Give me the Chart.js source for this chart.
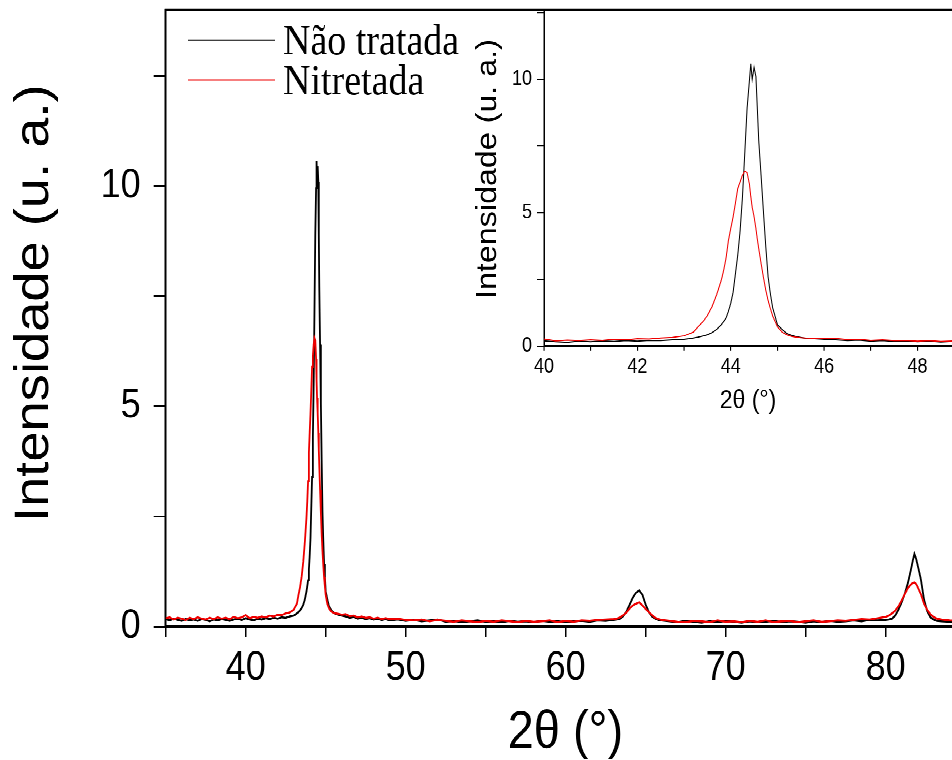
<!DOCTYPE html>
<html>
<head>
<meta charset="utf-8">
<script src="https://cdn.jsdelivr.net/npm/chart.js@4.4.1/dist/chart.umd.min.js"></script>
<style>
  html { overflow: hidden; }
  body { margin: 0; padding: 0; background: #fff; width: 952px; height: 760px; }
  /* the reference picture is stretched vertically, so the whole stage is too */
  #stage { position: relative; width: 952px; height: 672px; transform-origin: 0 0; transform: scaleY(1.131); }
  #main { position: absolute; left: 0; top: 0; }
  #inset { position: absolute; left: 440px; top: 0; }
</style>
</head>
<body>
<div id="stage">
  <canvas id="main" width="952" height="672"></canvas>
  <canvas id="inset" width="512" height="380"></canvas>
</div>
<script>
// -----------------------------------------------------------------------------
// Données
// -----------------------------------------------------------------------------
const seriesNames = ['Não tratada', 'Nitretada'];
const seriesColors = ['#000000', '#ee0000'];

const twoTheta = [
  35, 35.25, 35.5, 35.75, 36, 36.25, 36.5, 36.75, 37, 37.25, 37.5, 37.75, 38, 38.25, 38.5, 38.75,
  39, 39.25, 39.5, 39.75, 40, 40.25, 40.5, 40.75, 41, 41.25, 41.5, 41.75, 42, 42.25, 42.5, 42.75,
  43, 43.1, 43.2, 43.3, 43.4, 43.5, 43.6, 43.7, 43.8,
  43.85, 43.9, 43.95, 44, 44.05, 44.1, 44.15, 44.2, 44.25, 44.3, 44.35, 44.4, 44.43, 44.46, 44.5,
  44.54, 44.57, 44.6, 44.65, 44.7, 44.75, 44.8, 44.85, 44.9, 44.95,
  45, 45.1, 45.2, 45.3, 45.4, 45.5, 45.6,
  45.8, 46, 46.25, 46.5, 46.75, 47, 47.25, 47.5, 47.75, 48, 48.25, 48.5, 48.75, 49, 49.5, 50,
  50.5, 51, 51.5, 52, 52.5, 53, 53.5, 54, 54.5, 55, 55.5, 56, 56.5, 57, 57.5, 58, 58.5, 59, 59.5,
  60, 60.5, 61, 61.5, 62, 62.5, 63,
  63.2, 63.4, 63.6, 63.8, 64, 64.2, 64.4, 64.6, 64.8, 65, 65.2, 65.4, 65.6, 65.8, 66,
  66.5, 67, 67.5, 68, 68.5, 69, 69.5, 70, 70.5, 71, 71.5, 72, 72.5, 73, 73.5, 74, 74.5, 75, 75.5,
  76, 76.5, 77, 77.5, 78, 78.5, 79, 79.5,
  80, 80.2, 80.4, 80.6, 80.8, 81, 81.2, 81.4, 81.6, 81.7, 81.8, 81.9, 82, 82.2, 82.4, 82.6, 82.8, 83, 83.2,
  83.5, 84, 84.5
];

const naoTratada = [
  0.17, 0.14, 0.18, 0.15, 0.13, 0.17, 0.14, 0.16, 0.13, 0.17, 0.15, 0.12, 0.16, 0.14, 0.17, 0.15,
  0.13, 0.16, 0.18, 0.15, 0.19, 0.16, 0.14, 0.18, 0.16, 0.19, 0.17, 0.20, 0.18, 0.21, 0.20, 0.23,
  0.25, 0.27, 0.30, 0.33, 0.37, 0.42, 0.50, 0.62, 0.80,
  0.92, 1.05, 1.30, 1.60, 2.00, 2.70, 3.40, 4.30, 5.55, 7.20, 8.90, 9.95, 10.58, 10.00, 10.45,
  10.10, 8.90, 7.70, 6.40, 5.05, 3.75, 2.60, 1.95, 1.42, 1.12,
  0.80, 0.62, 0.47, 0.40, 0.35, 0.32, 0.29,
  0.27, 0.25, 0.23, 0.20, 0.22, 0.18, 0.20, 0.17, 0.19, 0.16, 0.18, 0.15, 0.17, 0.14, 0.16, 0.13,
  0.15, 0.12, 0.14, 0.16, 0.11, 0.13, 0.10, 0.12, 0.14, 0.11, 0.12, 0.10, 0.13, 0.11, 0.12, 0.10, 0.13, 0.11, 0.12,
  0.10, 0.12, 0.13, 0.11, 0.14, 0.13, 0.15,
  0.16, 0.18, 0.24, 0.34, 0.50, 0.66, 0.77, 0.82, 0.72, 0.50, 0.33, 0.23, 0.18, 0.15, 0.14,
  0.12, 0.10, 0.13, 0.11, 0.09, 0.12, 0.10, 0.13, 0.11, 0.09, 0.12, 0.10, 0.11, 0.13, 0.10, 0.12, 0.11, 0.09, 0.12,
  0.10, 0.13, 0.11, 0.12, 0.14, 0.12, 0.15, 0.14,
  0.15, 0.16, 0.18, 0.25, 0.38, 0.55, 0.75, 1.00, 1.32, 1.50, 1.65, 1.55, 1.40, 1.08, 0.62, 0.35, 0.21, 0.16, 0.13,
  0.12, 0.11, 0.12
];

const nitretada = [
  0.19, 0.21, 0.16, 0.20, 0.18, 0.15, 0.20, 0.17, 0.21, 0.18, 0.16, 0.20, 0.17, 0.21, 0.18, 0.20,
  0.17, 0.22, 0.19, 0.21, 0.26, 0.19, 0.22, 0.20, 0.23, 0.21, 0.25, 0.23, 0.27, 0.26, 0.30, 0.32,
  0.38, 0.45, 0.52, 0.72, 0.90, 1.14, 1.48, 1.93, 2.48,
  2.85, 3.30, 3.95, 4.40, 4.83, 5.35, 5.90, 6.15, 6.40, 6.55, 6.50, 6.08, 5.60, 5.20, 4.85,
  4.40, 4.00, 3.65, 3.10, 2.58, 2.10, 1.71, 1.40, 1.12, 0.92,
  0.72, 0.52, 0.42, 0.36, 0.33, 0.31, 0.30,
  0.29, 0.27, 0.28, 0.24, 0.25, 0.21, 0.23, 0.20, 0.21, 0.18, 0.20, 0.17, 0.19, 0.17, 0.18, 0.15,
  0.14, 0.16, 0.12, 0.15, 0.13, 0.11, 0.14, 0.12, 0.10, 0.13, 0.11, 0.14, 0.12, 0.10, 0.13, 0.11, 0.12, 0.14, 0.10,
  0.13, 0.11, 0.14, 0.13, 0.15, 0.16, 0.17,
  0.18, 0.21, 0.26, 0.32, 0.41, 0.48, 0.52, 0.55, 0.48, 0.40, 0.33, 0.26, 0.20, 0.17, 0.15,
  0.13, 0.11, 0.10, 0.13, 0.12, 0.10, 0.14, 0.11, 0.12, 0.10, 0.13, 0.11, 0.14, 0.10, 0.12, 0.13, 0.10, 0.12, 0.14,
  0.11, 0.12, 0.14, 0.13, 0.15, 0.17, 0.16, 0.19,
  0.22, 0.25, 0.30, 0.36, 0.46, 0.59, 0.74, 0.88, 0.96, 0.99, 1.00, 0.97, 0.90, 0.74, 0.52, 0.38, 0.28, 0.22, 0.18,
  0.16, 0.14, 0.13
];

// axes: [min, max, pas des graduations, pas des étiquettes]
const mainX = [35, 84.15, 5, 10];
const mainY = [0, 14, 2.5, 5];
const insetX = [40, 48.74, 1, 2];
const insetY = [0, 12.6, 2.5, 5];

const SANS = '"Liberation Sans", Arial, sans-serif';
const SERIF = '"Liberation Serif", "Times New Roman", serif';

// -----------------------------------------------------------------------------
// Outils
// -----------------------------------------------------------------------------
function buildDatasets(width) {
  const ys = [naoTratada, nitretada];
  return ys.map((vals, i) => ({
    label: seriesNames[i],
    data: twoTheta.map((x, k) => ({ x, y: vals[k] })),
    borderColor: seriesColors[i],
    borderWidth: width,
    pointRadius: 0,
    tension: 0,
    order: i === 1 ? 1 : 2   // le rouge passe devant
  }));
}

function axis(range, opts) {
  return {
    type: 'linear',
    min: range[0],
    max: range[1],
    afterFit: s => {
      opts.fit(s);
      // pas de marge automatique pour les étiquettes : la zone est fixée à la main
      s.paddingTop = 0; s.paddingBottom = 0; s.paddingLeft = 0; s.paddingRight = 0;
    },
    border: { display: true, color: '#000', width: opts.border },
    grid: { drawOnChartArea: false, drawTicks: true, tickLength: opts.tick, color: '#000', lineWidth: opts.border * 0.75 },
    ticks: {
      stepSize: range[2],
      includeBounds: false,
      autoSkip: false,
      maxRotation: 0,
      padding: opts.pad,
      color: '#000',
      font: { family: SANS, size: opts.size },
      callback: v => (Math.abs(v / range[3] - Math.round(v / range[3])) < 1e-6 ? v : '')
    },
    title: {
      display: true,
      text: opts.title,
      color: '#000',
      font: { family: SANS, size: opts.titleSize, lineHeight: 1 },
      padding: opts.titlePad
    }
  };
}

// bordure du haut + légende dessinée dans la zone du graphique
const frameAndLegend = {
  id: 'frameAndLegend',
  afterDraw(chart) {
    const { ctx, chartArea } = chart;
    ctx.save();
    ctx.strokeStyle = '#000';
    ctx.lineWidth = 2;
    ctx.beginPath();
    ctx.moveTo(chartArea.left - 1, chartArea.top);
    ctx.lineTo(chartArea.right, chartArea.top);
    ctx.stroke();

    const rows = [35.4, 70.8];
    ctx.font = '38px ' + SERIF;
    ctx.textBaseline = 'middle';
    ctx.fillStyle = '#000';
    seriesNames.forEach((name, i) => {
      ctx.strokeStyle = seriesColors[i];
      ctx.lineWidth = 1;
      ctx.beginPath();
      ctx.moveTo(188, rows[i]);
      ctx.lineTo(275, rows[i]);
      ctx.stroke();
      ctx.fillText(name, 283, rows[i] + 2.5);
    });
    ctx.restore();
  }
};

// -----------------------------------------------------------------------------
// Graphique principal
// -----------------------------------------------------------------------------
new Chart(document.getElementById('main'), {
  type: 'line',
  data: { datasets: buildDatasets(1.8) },
  options: {
    responsive: false,
    animation: false,
    devicePixelRatio: 2,
    layout: { padding: { top: 8.85, right: 0, left: 0, bottom: 0 } },
    plugins: { legend: { display: false }, tooltip: { enabled: false } },
    scales: {
      x: axis(mainX, {
        fit: s => { s.height = 118; }, border: 2, tick: 9, pad: 6.5, size: 36,
        title: ' 2θ (°)', titleSize: 47, titlePad: { top: 0, bottom: 0 }
      }),
      y: axis(mainY, {
        fit: s => { s.width = 165.7; }, border: 2, tick: 12, pad: 13, size: 36,
        title: '  Intensidade (u. a.)', titleSize: 48, titlePad: { top: 11, bottom: 0 }
      })
    }
  },
  plugins: [frameAndLegend]
});

// -----------------------------------------------------------------------------
// Encart (zoom sur le pic à 44°)
// -----------------------------------------------------------------------------
new Chart(document.getElementById('inset'), {
  type: 'line',
  data: { datasets: buildDatasets(1) },
  options: {
    responsive: false,
    animation: false,
    devicePixelRatio: 2,
    layout: { padding: { top: 8.85, right: 0, left: 0, bottom: 0 } },
    plugins: { legend: { display: false }, tooltip: { enabled: false } },
    scales: {
      x: axis(insetX, {
        fit: s => { s.height = 74.1; }, border: 1.5, tick: 4, pad: 4, size: 18,
        title: '2θ (°)', titleSize: 23, titlePad: { top: 0, bottom: 14 }
      }),
      y: axis(insetY, {
        fit: s => { s.width = 104; }, border: 1.5, tick: 7, pad: 5, size: 18,
        title: '  Intensidade (u. a.)', titleSize: 28.5, titlePad: { top: 34, bottom: 0 }
      })
    }
  }
});
</script>
</body>
</html>
